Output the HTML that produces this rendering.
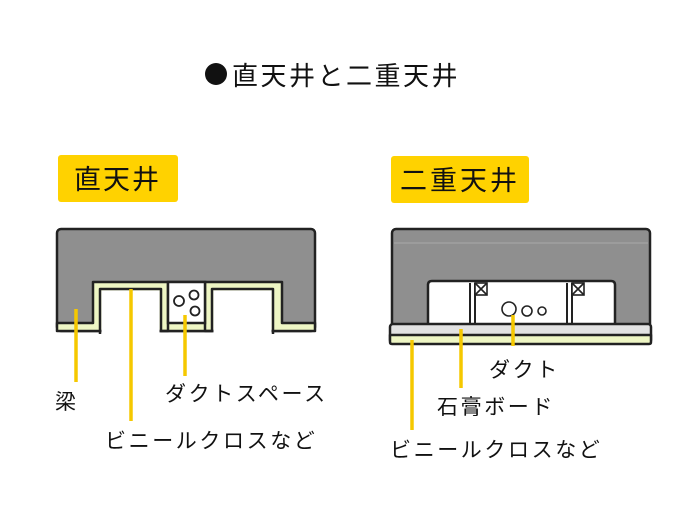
<!DOCTYPE html>
<html><head><meta charset="utf-8"><style>
html,body{margin:0;padding:0;background:#fff}
svg text{font-family:"Liberation Sans","Noto Sans CJK JP",sans-serif;fill:#111}
</style></head><body>
<svg width="700" height="517" viewBox="0 0 700 517" xmlns="http://www.w3.org/2000/svg">
<rect width="700" height="517" fill="#fff"/>
<circle cx="216" cy="74" r="11" fill="#111"/>
<text x="232" y="85" font-size="26" letter-spacing="2.5">直天井と二重天井</text>
<rect x="58" y="155" width="120" height="47" rx="3" fill="#ffd200"/>
<text x="74" y="189" font-size="27" letter-spacing="2">直天井</text>
<rect x="391" y="156" width="138" height="47" rx="3" fill="#ffd200"/>
<text x="400" y="190" font-size="27" letter-spacing="3">二重天井</text>

<!-- left -->
<g stroke="#222" stroke-width="2.5" stroke-linejoin="round">
<rect x="57" y="229" width="258" height="102" rx="4" fill="#8f8f8f"/>
<path d="M57 323 H93 V282 H282 V323 H315 V331 H57 Z" fill="#eef6c4"/>
<path d="M100 334 V289 H161 V331 H168 V282 M205 282 V331 H212 V289 H273 V334" fill="none"/>
</g>
<rect x="101.5" y="290.5" width="58" height="45" fill="#fff"/>
<rect x="213.5" y="290.5" width="58" height="45" fill="#fff"/>
<rect x="168" y="282" width="37" height="41" fill="#fff" stroke="#222" stroke-width="2.5"/>
<g fill="none" stroke="#222" stroke-width="1.8">
<circle cx="179" cy="301" r="5"/><circle cx="194" cy="295" r="4.5"/><circle cx="195" cy="311" r="4.5"/>
</g>

<!-- right -->
<g stroke="#222" stroke-width="2.5" stroke-linejoin="round">
<rect x="392" y="229" width="258" height="100" rx="4" fill="#8f8f8f"/>
<path d="M428 325 V285 Q428 281 432 281 H611 Q615 281 615 285 V325 Z" fill="#fff"/>
<rect x="390" y="324" width="261" height="19" rx="3" fill="#e2e2e2"/>
<path d="M390 335 H651 V342 Q651 344 649 344 H392 Q390 344 390 342 Z" fill="#eef6c4"/>
</g>
<line x1="394" y1="243" x2="648" y2="243" stroke="#a8a8a8" stroke-width="1"/>
<g stroke="#222" stroke-width="2">
<line x1="470" y1="283" x2="470" y2="323"/><line x1="475" y1="283" x2="475" y2="323"/>
<line x1="567" y1="283" x2="567" y2="323"/><line x1="572" y1="283" x2="572" y2="323"/>
</g>
<g stroke="#fff" stroke-width="2" stroke-dasharray="2 3">
<line x1="472.5" y1="285" x2="472.5" y2="322"/><line x1="569.5" y1="285" x2="569.5" y2="322"/>
</g>
<g fill="#fff" stroke="#222" stroke-width="1.6">
<rect x="475" y="283" width="12" height="12"/><path d="M475 283 L487 295 M487 283 L475 295"/>
<rect x="572" y="283" width="12" height="12"/><path d="M572 283 L584 295 M584 283 L572 295"/>
<circle cx="509" cy="309" r="7"/><circle cx="527" cy="311" r="5"/><circle cx="542" cy="311" r="4"/>
</g>

<!-- leaders -->
<g stroke="#f5c800" stroke-width="3.5">
<line x1="76" y1="309" x2="76" y2="382"/>
<line x1="131" y1="289" x2="131" y2="421"/>
<line x1="185" y1="315" x2="185" y2="376"/>
<line x1="412" y1="340" x2="412" y2="430"/>
<line x1="461" y1="329" x2="461" y2="388"/>
<line x1="513" y1="315" x2="513" y2="346"/>
</g>
<g font-size="21" letter-spacing="2.6">
<text x="55" y="409">梁</text>
<text x="165" y="401">ダクトスペース</text>
<text x="105" y="448">ビニールクロスなど</text>
<text x="489" y="377">ダクト</text>
<text x="437" y="414">石膏ボード</text>
<text x="390" y="457">ビニールクロスなど</text>
</g>
</svg>
</body></html>
